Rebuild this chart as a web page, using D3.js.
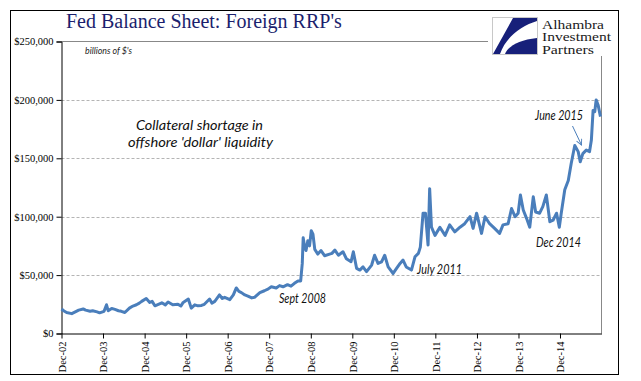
<!DOCTYPE html>
<html>
<head>
<meta charset="utf-8">
<script src="https://cdn.jsdelivr.net/npm/d3@7/dist/d3.min.js"></script>
<style>
  body { margin: 0; background: #fff; }
  svg { display: block; }
</style>
</head>
<body>
<div id="chart"></div>
<script>
// weekly-ish readings, $ millions
const dates = [
  '2002-12-01','2002-12-20','2003-01-15','2003-03-01','2003-04-10','2003-05-01','2003-06-10','2003-07-01',
  '2003-08-10','2003-09-01','2003-10-10','2003-11-01','2003-12-10','2004-01-01','2004-01-15','2004-02-15',
  '2004-03-15','2004-04-15','2004-05-10','2004-06-10','2004-07-20','2004-08-20','2004-09-20','2004-10-15',
  '2004-11-05','2004-12-15','2005-01-15','2005-02-05','2005-03-01','2005-04-01','2005-05-01','2005-06-01',
  '2005-06-25','2005-08-05','2005-09-20','2005-10-15','2005-11-05','2005-12-20','2006-01-15','2006-02-15',
  '2006-03-15','2006-04-15','2006-05-10','2006-06-25','2006-07-15','2006-08-10','2006-09-20','2006-10-15',
  '2006-11-05','2006-12-20','2007-01-20','2007-02-15','2007-03-10','2007-04-01','2007-05-01','2007-05-28',
  '2007-07-01','2007-07-25','2007-09-10','2007-10-20','2007-11-20','2007-12-20','2008-02-01','2008-03-01',
  '2008-04-01','2008-05-10','2008-06-10','2008-07-10','2008-08-10','2008-09-03','2008-09-17','2008-09-25',
  '2008-10-08','2008-10-20','2008-11-05','2008-11-20','2008-12-05','2008-12-20','2009-01-05','2009-02-01',
  '2009-03-01','2009-04-01','2009-05-15','2009-06-05','2009-07-01','2009-08-01','2009-09-10','2009-10-10',
  '2009-11-20','2009-12-10','2010-01-08','2010-02-05','2010-03-05','2010-04-05','2010-05-20','2010-06-15',
  '2010-07-15','2010-08-15','2010-09-12','2010-10-12','2010-11-25','2010-12-25','2011-01-25','2011-02-20',
  '2011-03-20','2011-05-05','2011-06-05','2011-07-05','2011-07-22','2011-08-15','2011-09-05','2011-09-28',
  '2011-10-12','2011-10-28','2011-11-28','2012-01-10','2012-02-25','2012-04-05','2012-05-20','2012-07-05',
  '2012-08-15','2012-10-01','2012-10-28','2012-11-28','2013-01-10','2013-02-10','2013-03-22','2013-05-05',
  '2013-06-18','2013-07-18','2013-09-01','2013-10-01','2013-11-01','2013-11-28','2013-12-18','2014-01-12',
  '2014-02-10','2014-03-10','2014-04-10','2014-05-01','2014-06-05','2014-07-03','2014-08-03','2014-09-03',
  '2014-10-01','2014-11-01','2014-11-25','2014-12-12','2015-01-12','2015-02-12','2015-03-10','2015-04-10',
  '2015-05-10','2015-05-28','2015-06-20','2015-07-20','2015-08-18','2015-09-03','2015-09-18','2015-10-03',
  '2015-10-15','2015-11-01','2015-11-22'
];
const values = [
  21000,19500,18000,17000,19000,20000,21000,20000,
  19000,19500,18500,17700,19000,24600,19500,21500,
  20600,19500,19000,18000,21700,23500,24600,26000,
  27500,30000,26600,27500,23700,25000,26300,24500,
  27000,24600,25000,23500,26600,29500,21700,24500,
  23700,24000,25000,29500,26000,27500,33000,30000,
  31000,29000,33000,39000,36000,35000,33000,32000,
  30500,31000,35000,36600,38000,40000,39000,41000,
  40000,41800,40500,43000,45000,45000,60000,82000,
  74000,71000,79500,75000,88000,85000,72000,68000,
  71000,66600,68000,68600,71400,67000,70000,64000,
  61400,70000,55700,54300,57000,53000,58600,67000,
  60000,61400,67000,57000,51400,55700,60000,62900,
  57000,54300,65700,68600,74000,103000,103000,75700,
  124000,91000,84000,91000,84000,93000,87000,91000,
  94000,100000,90000,103000,85700,100000,94000,90000,
  85700,93000,94000,107000,100000,103000,118600,105700,
  98600,91000,117000,104000,103000,108600,118600,95700,
  97000,103000,91000,103000,123000,131000,145700,161000,
  155700,147000,154000,157000,155700,165700,191000,190000,
  200000,195700,185700
];
const yTicks = [0, 50000, 100000, 150000, 200000, 250000];
const xTickYears = d3.range(2002, 2015);
const logoLines = ['Alhambra', 'Investment', 'Partners'];

const width = 641, height = 381;
const plot = { left: 61.5, right: 601.5, top: 41.5, bottom: 333.5 };
const blue = '#4a7ebb';

const parse = d3.timeParse('%Y-%m-%d');
const data = dates.map((d, i) => ({ date: parse(d), value: values[i] }));

const svg = d3.select('#chart').append('svg')
  .attr('width', width)
  .attr('height', height);

svg.append('rect')
  .attr('width', width).attr('height', height).attr('fill', '#fff');

// outer frame
svg.append('rect')
  .attr('x', 10.5).attr('y', 10.5)
  .attr('width', 608).attr('height', 364)
  .attr('fill', 'none').attr('stroke', '#000');

const xScale = d3.scaleTime()
  .domain([new Date(2002, 11, 1), new Date(2015, 11, 1)])
  .range([plot.left, plot.right]);

const yScale = d3.scaleLinear()
  .domain([0, 250000])
  .range([plot.bottom, plot.top]);

// gridlines
svg.append('g')
  .selectAll('line')
  .data(yTicks.filter(v => v > 0 && v < 250000))
  .enter()
  .append('line')
  .attr('x1', plot.left).attr('x2', plot.right)
  .attr('y1', v => Math.round(yScale(v)) + 0.5)
  .attr('y2', v => Math.round(yScale(v)) + 0.5)
  .attr('stroke', '#b4b4b4')
  .attr('stroke-dasharray', '3,2');

// plot box: top and right edges
svg.append('line')
  .attr('x1', plot.left).attr('x2', plot.right)
  .attr('y1', plot.top).attr('y2', plot.top)
  .attr('stroke', '#888');
svg.append('line')
  .attr('x1', plot.right).attr('x2', plot.right)
  .attr('y1', plot.top).attr('y2', plot.bottom)
  .attr('stroke', '#888');

const yAxis = svg.append('g')
  .attr('transform', `translate(${plot.left}, 0)`)
  .call(d3.axisLeft(yScale)
    .tickValues(yTicks)
    .tickSize(5)
    .tickPadding(3)
    .tickFormat(v => '$' + d3.format(',')(v)));
yAxis.select('.domain').attr('stroke', '#000');
yAxis.selectAll('text')
  .style('font-family', '"Liberation Serif", serif')
  .style('font-size', '10.5px')
  .attr('fill', '#000');

const xAxis = svg.append('g')
  .attr('transform', `translate(0, ${plot.bottom})`)
  .call(d3.axisBottom(xScale)
    .tickValues(xTickYears.map(y => new Date(y, 11, 1)))
    .tickSize(5)
    .tickSizeOuter(0)
    .tickFormat(d3.timeFormat('Dec-%y')));
xAxis.select('.domain').attr('stroke', '#000');
xAxis.selectAll('text')
  .style('font-family', '"Liberation Serif", serif')
  .style('font-size', '10.5px')
  .attr('fill', '#000')
  .attr('text-anchor', 'end')
  .attr('transform', 'rotate(-90)')
  .attr('x', -8)
  .attr('y', 0)
  .attr('dy', '0.35em');

// series
const line = d3.line()
  .x(d => xScale(d.date))
  .y(d => yScale(d.value));

svg.append('path')
  .datum(data)
  .attr('d', line)
  .attr('fill', 'none')
  .attr('stroke', blue)
  .attr('stroke-width', 3)
  .attr('stroke-linejoin', 'round');

// title
svg.append('text')
  .attr('x', 66).attr('y', 28)
  .text("Fed Balance Sheet: Foreign RRP's")
  .style('font-family', '"Liberation Serif", serif')
  .style('font-size', '20px')
  .attr('fill', '#1b1f6e');

svg.append('text')
  .attr('x', 85).attr('y', 54)
  .text("billions of $'s")
  .style('font-family', 'Lato, sans-serif')
  .style('font-style', 'italic')
  .style('font-size', '10px')
  .attr('textLength', 47)
  .attr('lengthAdjust', 'spacingAndGlyphs')
  .attr('fill', '#222');

// annotations
const italic = sel => sel
  .style('font-family', 'Lato, sans-serif')
  .style('font-style', 'italic')
  .style('font-size', '13px')
  .attr('lengthAdjust', 'spacingAndGlyphs')
  .attr('fill', '#111');

svg.append('text').attr('x', 136).attr('y', 129.5)
  .text('Collateral shortage in').attr('textLength', 127).call(italic);
svg.append('text').attr('x', 128).attr('y', 147)
  .text("offshore 'dollar' liquidity").attr('textLength', 145).call(italic);

svg.append('text').attr('x', 279).attr('y', 302.5)
  .text('Sept 2008').attr('textLength', 47).call(italic);
svg.append('text').attr('x', 417).attr('y', 274)
  .text('July 2011').attr('textLength', 45).call(italic);
svg.append('text').attr('x', 536).attr('y', 246.5)
  .text('Dec 2014').attr('textLength', 45).call(italic);
svg.append('text').attr('x', 535).attr('y', 119.5)
  .text('June 2015').attr('textLength', 48).call(italic);

// arrow to June 2015
svg.append('defs').append('marker')
  .attr('id', 'head')
  .attr('viewBox', '0 0 10 10')
  .attr('refX', 9).attr('refY', 5)
  .attr('markerWidth', 7).attr('markerHeight', 7)
  .attr('orient', 'auto')
  .append('path')
  .attr('d', 'M1,1 L9,5 L1,9')
  .attr('fill', 'none')
  .attr('stroke', blue)
  .attr('stroke-width', 1.3);

svg.append('line')
  .attr('x1', 572.5).attr('y1', 126)
  .attr('x2', 581.5).attr('y2', 145)
  .attr('stroke', blue)
  .attr('stroke-width', 1)
  .attr('marker-end', 'url(#head)');

// logo
const logo = svg.append('g');
logo.append('rect')
  .attr('x', 488).attr('y', 12).attr('width', 128).attr('height', 44)
  .attr('fill', '#fff');
logo.append('rect')
  .attr('x', 492.5).attr('y', 17.5).attr('width', 45).attr('height', 37)
  .attr('fill', '#fff').attr('stroke', '#c8c8c8');
logo.append('path')
  .attr('d', 'M513,18 L537,18 L537,21 C521,26 506,37 500,54 L493,54 Z')
  .attr('fill', '#17207a');
logo.append('path')
  .attr('d', 'M505,54 C509,45 520,40 537,38 L537,54 Z')
  .attr('fill', '#17207a');
logo.append('line')
  .attr('x1', plot.right).attr('x2', plot.right)
  .attr('y1', 56).attr('y2', 70)
  .attr('stroke', '#888');

const logoWidths = [62, 69, 52];
logoLines.forEach((t, i) => {
  logo.append('text')
    .attr('x', 542).attr('y', 28.5 + i * 12.8)
    .text(t)
    .style('font-family', '"Liberation Serif", serif')
    .style('font-size', '11.5px')
    .attr('textLength', logoWidths[i])
    .attr('lengthAdjust', 'spacingAndGlyphs')
    .attr('fill', '#1a1a1a');
});
</script>
</body>
</html>
